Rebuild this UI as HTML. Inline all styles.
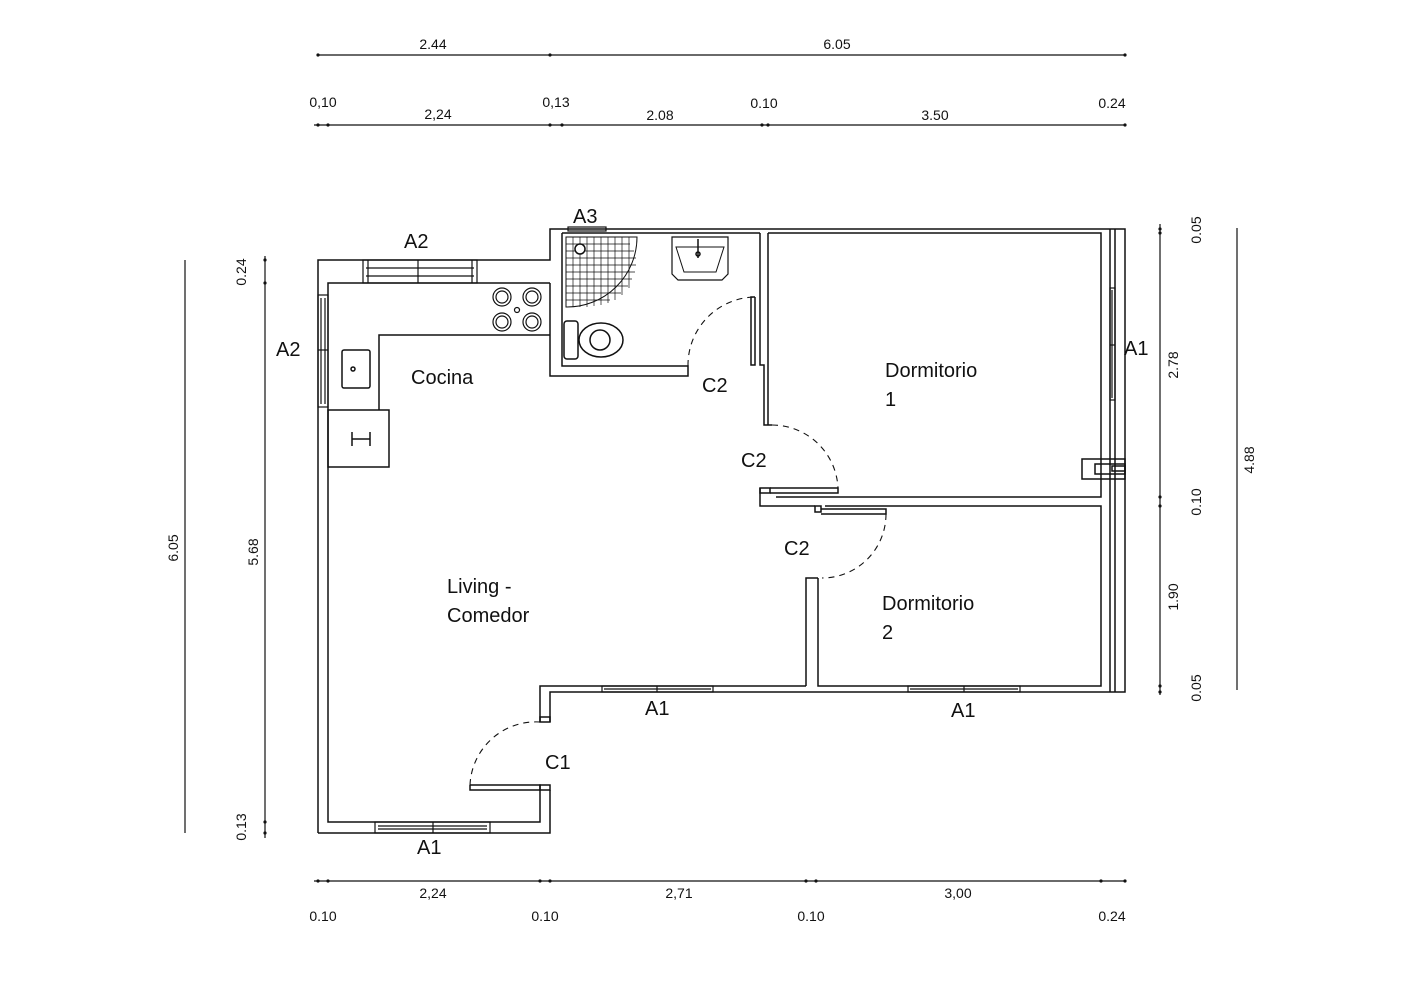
<!DOCTYPE html>
<html><head><meta charset="utf-8"><style>
html,body{margin:0;padding:0;background:#fff}
svg{display:block}
text{font-family:"Liberation Sans",Arial,sans-serif;fill:#111}
.d{font-size:14px}
.r{font-size:20px}
</style></head><body>
<svg width="1428" height="992" viewBox="0 0 1428 992" xmlns="http://www.w3.org/2000/svg">
<g stroke="#111" stroke-width="1.5" fill="none">
<!-- outer shell -->
<polyline points="318,833 318,260 550,260 550,229 1125,229 1125,692 550,692 550,722"/>
<polyline points="550,790 550,833 318,833"/>
<polyline points="540,790 540,822 328,822 328,283 550,283"/>
<polyline points="540,722 540,686 806,686"/>
<!-- kitchen counter -->
<polyline points="550,335 379,335 379,410"/>
<rect x="328" y="410" width="61" height="57"/>
<!-- bathroom -->
<polyline points="562,233 562,366 688,366 688,376 550,376 550,283"/>
<line x1="562" y1="233" x2="760" y2="233"/>
<polyline points="760,233 760,365 764,365 764,425 772,425"/>
<polyline points="768,233 768,425"/>
<polyline points="755,297 751,297 751,365 755,365 755,297"/>
<!-- bedroom 1 -->
<polyline points="768,233 1101,233 1101,497 776,497"/>
<polyline points="760,488 760,506 815,506"/>
<polyline points="770,488 838,488 838,493 770,493"/>
<rect x="760" y="488" width="10" height="5"/>
<!-- bedroom 2 -->
<polyline points="825,506 1101,506 1101,686 818,686 818,578"/>
<polyline points="806,686 806,578 818,578"/>
<rect x="815" y="506" width="6" height="6"/>
<polyline points="821,509 886,509 886,514 821,514"/>
<line x1="1110" y1="229" x2="1110" y2="692"/>
<line x1="1115" y1="229" x2="1115" y2="692"/>
<!-- C1 door -->
<polyline points="470,785 540,785 540,790 470,790 470,785"/>
<rect x="540" y="785" width="10" height="5"/>
<rect x="540" y="717" width="10" height="5"/>
<!-- windows -->
<g stroke-width="1.2">
<rect x="363" y="260" width="114" height="23"/><line x1="366" y1="268" x2="474" y2="268"/><line x1="366" y1="276" x2="474" y2="276"/><line x1="418" y1="260" x2="418" y2="283"/><line x1="368" y1="260" x2="368" y2="283"/><line x1="472" y1="260" x2="472" y2="283"/>
<rect x="318" y="295" width="10" height="112"/><line x1="321" y1="298" x2="321" y2="404"/><line x1="325" y1="298" x2="325" y2="404"/><line x1="318" y1="350" x2="328" y2="350"/>
<rect x="375" y="822" width="115" height="11"/><line x1="378" y1="826" x2="487" y2="826"/><line x1="378" y1="829" x2="487" y2="829"/><line x1="433" y1="822" x2="433" y2="833"/>
<rect x="602" y="686" width="111" height="6"/><line x1="657" y1="686" x2="657" y2="692"/><line x1="604" y1="689" x2="711" y2="689"/>
<rect x="908" y="686" width="112" height="6"/><line x1="964" y1="686" x2="964" y2="692"/><line x1="910" y1="689" x2="1018" y2="689"/>
<rect x="1110" y="288" width="5" height="112"/><line x1="1112" y1="290" x2="1112" y2="398"/><line x1="1110" y1="345" x2="1115" y2="345"/>
<rect x="568" y="227" width="38" height="4"/>
</g>
<!-- electric box -->
<rect x="1082" y="459" width="43" height="20"/><rect x="1095" y="464" width="30" height="10"/><rect x="1112" y="466" width="13" height="5"/>
<!-- arcs -->
<g stroke-dasharray="6,5" stroke-width="1.1">
<path d="M688,366 A68,68 0 0 1 755,297"/>
<path d="M772,425 A66,66 0 0 1 838,488"/>
<path d="M886,514 A64,64 0 0 1 822,578"/>
<path d="M470,785 A66,66 0 0 1 540,722"/>
</g>
<!-- fixtures -->
<path d="M566,237 H637 A70,70 0 0 1 566,307 Z" stroke-width="1"/>
<g stroke-width="0.7">
<line x1="566" y1="244" x2="630" y2="244"/><line x1="566" y1="251" x2="634" y2="251"/><line x1="566" y1="258" x2="636" y2="258"/><line x1="566" y1="265" x2="636" y2="265"/><line x1="566" y1="272" x2="635" y2="272"/><line x1="566" y1="279" x2="632" y2="279"/><line x1="566" y1="286" x2="628" y2="286"/><line x1="566" y1="293" x2="621" y2="293"/><line x1="566" y1="300" x2="610" y2="300"/>
<line x1="573" y1="237" x2="573" y2="307"/><line x1="580" y1="237" x2="580" y2="307"/><line x1="587" y1="237" x2="587" y2="307"/><line x1="594" y1="237" x2="594" y2="306"/><line x1="601" y1="237" x2="601" y2="305"/><line x1="608" y1="237" x2="608" y2="303"/><line x1="615" y1="237" x2="615" y2="300"/><line x1="622" y1="237" x2="622" y2="295"/><line x1="629" y1="237" x2="629" y2="288"/>
</g>
<circle cx="580" cy="249" r="5" fill="#fff"/>
<path d="M672,237 H728 V274 L722,280 H678 L672,274 Z" stroke-width="1.2"/>
<path d="M676,247 H724 L716,272 H684 Z" stroke-width="1"/>
<line x1="698" y1="239" x2="698" y2="258"/><circle cx="698" cy="254" r="2"/>
<rect x="564" y="321" width="14" height="38" rx="3"/>
<ellipse cx="601" cy="340" rx="22" ry="17"/><ellipse cx="600" cy="340" rx="10" ry="10"/>
<g stroke-width="1.2">
<circle cx="502" cy="297" r="9"/><circle cx="532" cy="297" r="9"/><circle cx="502" cy="322" r="9"/><circle cx="532" cy="322" r="9"/>
<circle cx="502" cy="297" r="6"/><circle cx="532" cy="297" r="6"/><circle cx="502" cy="322" r="6"/><circle cx="532" cy="322" r="6"/>
<circle cx="517" cy="310" r="2.5"/>
</g>
<rect x="342" y="350" width="28" height="38" rx="2"/>
<circle cx="353" cy="369" r="2"/>
<line x1="352" y1="432" x2="352" y2="446"/><line x1="370" y1="432" x2="370" y2="446"/><line x1="352" y1="439" x2="370" y2="439"/>
</g>
<!-- dimension lines -->
<g stroke="#111" stroke-width="1.2">
<line x1="318" y1="55" x2="1125" y2="55"/>
<line x1="314" y1="125" x2="1125" y2="125"/>
<line x1="314" y1="881" x2="1125" y2="881"/>
<line x1="185" y1="260" x2="185" y2="833"/>
<line x1="265" y1="256" x2="265" y2="838"/>
<line x1="1160" y1="224" x2="1160" y2="695"/>
<line x1="1237" y1="228" x2="1237" y2="690"/>
</g>
<g fill="#111">
<circle cx="318" cy="55" r="1.6"/><circle cx="550" cy="55" r="1.6"/><circle cx="1125" cy="55" r="1.6"/>
<circle cx="318" cy="125" r="1.6"/><circle cx="328" cy="125" r="1.6"/><circle cx="550" cy="125" r="1.6"/><circle cx="562" cy="125" r="1.6"/><circle cx="762" cy="125" r="1.6"/><circle cx="768" cy="125" r="1.6"/><circle cx="1125" cy="125" r="1.6"/>
<circle cx="318" cy="881" r="1.6"/><circle cx="328" cy="881" r="1.6"/><circle cx="540" cy="881" r="1.6"/><circle cx="550" cy="881" r="1.6"/><circle cx="806" cy="881" r="1.6"/><circle cx="816" cy="881" r="1.6"/><circle cx="1101" cy="881" r="1.6"/><circle cx="1125" cy="881" r="1.6"/>
<circle cx="265" cy="260" r="1.6"/><circle cx="265" cy="283" r="1.6"/><circle cx="265" cy="822" r="1.6"/><circle cx="265" cy="833" r="1.6"/>
<circle cx="1160" cy="229" r="1.6"/><circle cx="1160" cy="233" r="1.6"/><circle cx="1160" cy="497" r="1.6"/><circle cx="1160" cy="506" r="1.6"/><circle cx="1160" cy="686" r="1.6"/><circle cx="1160" cy="692" r="1.6"/>
</g>
<g class="d" text-anchor="middle">
<text x="433" y="49" class="d">2.44</text><text x="837" y="49" class="d">6.05</text>
<text x="323" y="107" class="d">0,10</text><text x="556" y="107" class="d">0,13</text><text x="764" y="108" class="d">0.10</text><text x="1112" y="108" class="d">0.24</text>
<text x="438" y="119" class="d">2,24</text><text x="660" y="120" class="d">2.08</text><text x="935" y="120" class="d">3.50</text>
<text x="433" y="898" class="d">2,24</text><text x="679" y="898" class="d">2,71</text><text x="958" y="898" class="d">3,00</text>
<text x="323" y="921" class="d">0.10</text><text x="545" y="921" class="d">0.10</text><text x="811" y="921" class="d">0.10</text><text x="1112" y="921" class="d">0.24</text>
<text class="d" transform="translate(178,548) rotate(-90)">6.05</text>
<text class="d" transform="translate(258,552) rotate(-90)">5.68</text>
<text class="d" transform="translate(246,272) rotate(-90)">0.24</text>
<text class="d" transform="translate(246,827) rotate(-90)">0.13</text>
<text class="d" transform="translate(1201,230) rotate(-90)">0.05</text>
<text class="d" transform="translate(1178,365) rotate(-90)">2.78</text>
<text class="d" transform="translate(1201,502) rotate(-90)">0.10</text>
<text class="d" transform="translate(1178,597) rotate(-90)">1.90</text>
<text class="d" transform="translate(1201,688) rotate(-90)">0.05</text>
<text class="d" transform="translate(1254,460) rotate(-90)">4.88</text>
</g>
<g class="r">
<text x="404" y="248" class="r">A2</text>
<text x="573" y="223" class="r">A3</text>
<text x="276" y="356" class="r">A2</text>
<text x="1124" y="355" class="r">A1</text>
<text x="411" y="384" class="r">Cocina</text>
<text x="702" y="392" class="r">C2</text>
<text x="741" y="467" class="r">C2</text>
<text x="784" y="555" class="r">C2</text>
<text x="885" y="377" class="r">Dormitorio</text><text x="885" y="406" class="r">1</text>
<text x="882" y="610" class="r">Dormitorio</text><text x="882" y="639" class="r">2</text>
<text x="447" y="593" class="r">Living -</text><text x="447" y="622" class="r">Comedor</text>
<text x="645" y="715" class="r">A1</text>
<text x="951" y="717" class="r">A1</text>
<text x="545" y="769" class="r">C1</text>
<text x="417" y="854" class="r">A1</text>
</g>
</svg>
</body></html>
